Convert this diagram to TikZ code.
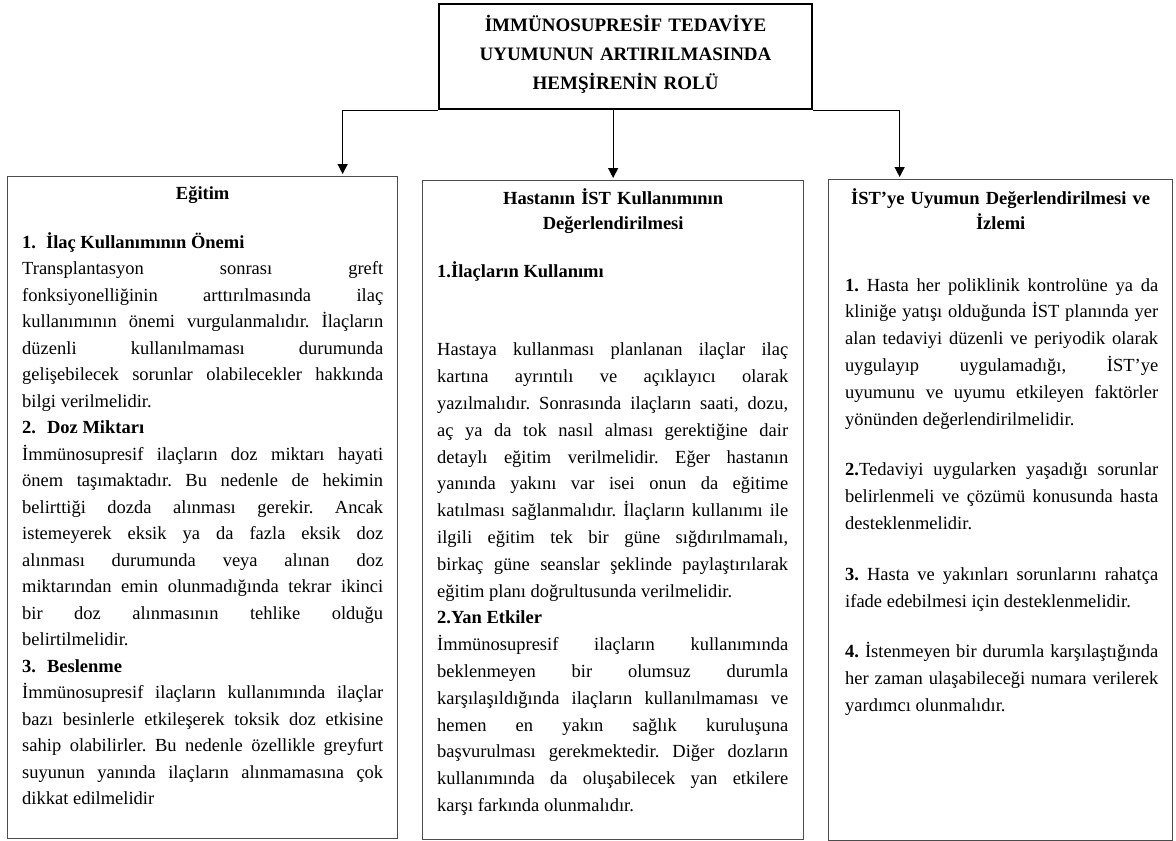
\documentclass[tikz,border=0pt]{standalone}
\usepackage{fontspec}
\setmainfont{Liberation Serif}
\usetikzlibrary{arrows.meta}
\frenchspacing
\hyphenpenalty=10000
\exhyphenpenalty=10000
\tolerance=10000
\begin{document}
\begin{tikzpicture}[x=1pt, y=-1pt, >={Triangle[length=10pt,width=10pt]},
  kutu/.style={draw=black!70, line width=1.3pt, anchor=north west, inner sep=0pt},
  ust/.style={anchor=base, inner sep=0pt, align=center, font=\bfseries\fontsize{18.5}{25}\selectfont},
  metin/.style={anchor=base west, inner sep=0pt, align=justify, font=\fontsize{18.5}{26.8}\selectfont}]
\useasboundingbox (0,0) rectangle (1176,841);
% ana kutu
\node[kutu, draw=black, line width=2.2pt, minimum width=373pt, minimum height=105pt,
  text width=373pt, text depth=66pt, align=center,
  font=\bfseries\fontsize{19}{28.8}\selectfont] (rol) at (438,3)
  {İMMÜNOSUPRESİF TEDAVİYE\\UYUMUNUN ARTIRILMASINDA\\HEMŞİRENİN ROLÜ};
% alt kutular
\node[kutu, minimum width=390pt, minimum height=662pt] (egitim) at (7,176) {};
\node[kutu, minimum width=381pt, minimum height=659pt] (kullanim) at (422,180) {};
\node[kutu, minimum width=344pt, minimum height=661pt] (izlem) at (828,179) {};
% oklar
\draw[line width=1.3pt, ->, shorten >=2pt] (rol.south west) -| ([xshift=140pt]egitim.north);
\draw[line width=1.3pt, ->, shorten >=2pt] (kullanim.north |- rol.south) -- (kullanim.north);
\draw[line width=1.3pt, ->, shorten >=2pt] (rol.south east) -| ([xshift=-101pt]izlem.north);
% basliklar
\node[ust, text width=370pt] (egitimbaslik) at ([yshift=-23pt]egitim.north) {Eğitim};
\node[ust, text width=360pt] (kullanimbaslik) at ([yshift=-24pt]kullanim.north)
  {Hastanın İST Kullanımının\\Değerlendirilmesi};
\node[ust, text width=330pt] (izlembaslik) at ([yshift=-25pt]izlem.north)
  {İST’ye Uyumun Değerlendirilmesi ve\\İzlemi};
% metinler
\node[metin, text width=361pt, font=\fontsize{18.5}{26.5}\selectfont] (egitimmetin)
  at ([xshift=15pt, yshift=-72pt]egitim.north west)
  {\textbf{1.\hspace{10pt}İlaç Kullanımının Önemi}\par
  Transplantasyon sonrası greft\linebreak fonksiyonelliğinin arttırılmasında ilaç\linebreak
  kullanımının önemi vurgulanmalıdır. İlaçların\linebreak düzenli kullanılmaması durumunda\linebreak
  gelişebilecek sorunlar olabilecekler hakkında\linebreak bilgi verilmelidir.\par
  \textbf{2.\hspace{11pt}Doz Miktarı}\par
  İmmünosupresif ilaçların doz miktarı hayati\linebreak önem taşımaktadır. Bu nedenle de hekimin\linebreak
  belirttiği dozda alınması gerekir. Ancak\linebreak istemeyerek eksik ya da fazla eksik doz\linebreak
  alınması durumunda veya alınan doz\linebreak miktarından emin olunmadığında tekrar ikinci\linebreak
  bir doz alınmasının tehlike olduğu\linebreak belirtilmelidir.\par
  \textbf{3.\hspace{11pt}Beslenme}\par
  İmmünosupresif ilaçların kullanımında ilaçlar\linebreak bazı besinlerle etkileşerek toksik doz etkisine\linebreak
  sahip olabilirler. Bu nedenle özellikle greyfurt\linebreak suyunun yanında ilaçların alınmamasına çok\linebreak
  dikkat edilmelidir};
\node[metin, text width=351pt] (kullanimmetin) at ([xshift=15pt, yshift=-97pt]kullanim.north west)
  {\textbf{1.İlaçların Kullanımı}\par\vspace{52pt}
  Hastaya kullanması planlanan ilaçlar ilaç\linebreak kartına ayrıntılı ve açıklayıcı olarak\linebreak
  yazılmalıdır. Sonrasında ilaçların saati, dozu,\linebreak aç ya da tok nasıl alması gerektiğine dair\linebreak
  detaylı eğitim verilmelidir. Eğer hastanın\linebreak yanında yakını var isei onun da eğitime\linebreak
  katılması sağlanmalıdır. İlaçların kullanımı ile\linebreak ilgili eğitim tek bir güne sığdırılmamalı,\linebreak
  birkaç güne seanslar şeklinde paylaştırılarak\linebreak eğitim planı doğrultusunda verilmelidir.\par
  \textbf{2.Yan Etkiler}\par
  İmmünosupresif ilaçların kullanımında\linebreak beklenmeyen bir olumsuz durumla\linebreak
  karşılaşıldığında ilaçların kullanılmaması ve\linebreak hemen en yakın sağlık kuruluşuna\linebreak
  başvurulması gerekmektedir. Diğer dozların\linebreak kullanımında da oluşabilecek yan etkilere\linebreak
  karşı farkında olunmalıdır.};
\node[metin, text width=313pt] (izlemmetin) at ([xshift=17pt, yshift=-112pt]izlem.north west)
  {\textbf{1.} Hasta her poliklinik kontrolüne ya da\linebreak kliniğe yatışı olduğunda İST planında yer\linebreak
  alan tedaviyi düzenli ve periyodik olarak\linebreak uygulayıp uygulamadığı, İST’ye\linebreak
  uyumunu ve uyumu etkileyen faktörler\linebreak yönünden değerlendirilmelidir.\par\vspace{24pt}
  \textbf{2.}Tedaviyi uygularken yaşadığı sorunlar\linebreak belirlenmeli ve çözümü konusunda hasta\linebreak
  desteklenmelidir.\par\vspace{24pt}
  \textbf{3.} Hasta ve yakınları sorunlarını rahatça\linebreak ifade edebilmesi için desteklenmelidir.\par\vspace{24pt}
  \textbf{4.} İstenmeyen bir durumla karşılaştığında\linebreak her zaman ulaşabileceği numara verilerek\linebreak
  yardımcı olunmalıdır.};
\end{tikzpicture}
\end{document}
